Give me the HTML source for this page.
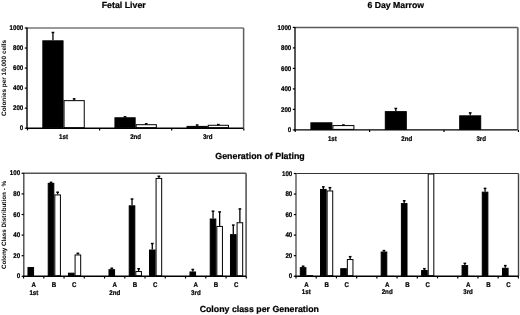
<!DOCTYPE html><html><head><meta charset="utf-8"><style>html,body{margin:0;padding:0;background:#fff;}svg{display:block;filter:blur(0.4px);}text{font-family:"Liberation Sans",sans-serif;fill:#000;text-rendering:geometricPrecision;}</style></head><body>
<svg width="520" height="315" viewBox="0 0 520 315">
<rect x="0" y="0" width="520" height="315" fill="#fff"/>
<rect x="42.85" y="40.82" width="20.20" height="86.88" fill="#000" stroke="#000" stroke-width="1.0"/>
<line x1="52.95" y1="40.32" x2="52.95" y2="32.51" stroke="#000" stroke-width="1.3"/>
<line x1="51.60" y1="32.51" x2="54.30" y2="32.51" stroke="#000" stroke-width="1.5"/>
<rect x="114.95" y="117.78" width="20.20" height="9.92" fill="#000" stroke="#000" stroke-width="1.0"/>
<line x1="125.05" y1="117.28" x2="125.05" y2="116.78" stroke="#000" stroke-width="1.3"/>
<line x1="123.70" y1="116.78" x2="126.40" y2="116.78" stroke="#000" stroke-width="1.5"/>
<rect x="187.05" y="126.40" width="20.20" height="1.30" fill="#000" stroke="#000" stroke-width="1.0"/>
<line x1="197.15" y1="125.90" x2="197.15" y2="124.99" stroke="#000" stroke-width="1.3"/>
<line x1="195.80" y1="124.99" x2="198.50" y2="124.99" stroke="#000" stroke-width="1.5"/>
<rect x="64.05" y="100.64" width="20.20" height="27.06" fill="#fff" stroke="#000" stroke-width="1.0"/>
<line x1="74.15" y1="100.14" x2="74.15" y2="98.84" stroke="#000" stroke-width="1.3"/>
<line x1="72.80" y1="98.84" x2="75.50" y2="98.84" stroke="#000" stroke-width="1.5"/>
<rect x="136.15" y="124.69" width="20.20" height="3.01" fill="#fff" stroke="#000" stroke-width="1.0"/>
<line x1="146.25" y1="124.19" x2="146.25" y2="123.79" stroke="#000" stroke-width="1.3"/>
<line x1="144.90" y1="123.79" x2="147.60" y2="123.79" stroke="#000" stroke-width="1.5"/>
<rect x="208.25" y="125.29" width="20.20" height="2.41" fill="#fff" stroke="#000" stroke-width="1.0"/>
<line x1="218.35" y1="124.79" x2="218.35" y2="124.59" stroke="#000" stroke-width="1.3"/>
<line x1="217.00" y1="124.59" x2="219.70" y2="124.59" stroke="#000" stroke-width="1.5"/>
<line x1="27.00" y1="28.00" x2="243.60" y2="28.00" stroke="#777" stroke-width="1.7"/>
<line x1="243.60" y1="28.00" x2="243.60" y2="128.20" stroke="#5c5c5c" stroke-width="1.5"/>
<line x1="27.00" y1="27.50" x2="27.00" y2="128.80" stroke="#000" stroke-width="1.4"/>
<line x1="26.40" y1="128.20" x2="243.30" y2="128.20" stroke="#000" stroke-width="1.4"/>
<line x1="24.80" y1="128.20" x2="27.00" y2="128.20" stroke="#000" stroke-width="1.2"/>
<text transform="translate(23.30 130.37) scale(0.1000 0.1100)" font-size="62.0" text-anchor="end" font-weight="bold" stroke="#000" stroke-width="2.00">0</text>
<line x1="24.80" y1="108.16" x2="27.00" y2="108.16" stroke="#000" stroke-width="1.2"/>
<text transform="translate(23.30 110.33) scale(0.1000 0.1100)" font-size="62.0" text-anchor="end" font-weight="bold" stroke="#000" stroke-width="2.00">200</text>
<line x1="24.80" y1="88.12" x2="27.00" y2="88.12" stroke="#000" stroke-width="1.2"/>
<text transform="translate(23.30 90.29) scale(0.1000 0.1100)" font-size="62.0" text-anchor="end" font-weight="bold" stroke="#000" stroke-width="2.00">400</text>
<line x1="24.80" y1="68.08" x2="27.00" y2="68.08" stroke="#000" stroke-width="1.2"/>
<text transform="translate(23.30 70.25) scale(0.1000 0.1100)" font-size="62.0" text-anchor="end" font-weight="bold" stroke="#000" stroke-width="2.00">600</text>
<line x1="24.80" y1="48.04" x2="27.00" y2="48.04" stroke="#000" stroke-width="1.2"/>
<text transform="translate(23.30 50.21) scale(0.1000 0.1100)" font-size="62.0" text-anchor="end" font-weight="bold" stroke="#000" stroke-width="2.00">800</text>
<line x1="24.80" y1="28.00" x2="27.00" y2="28.00" stroke="#000" stroke-width="1.2"/>
<text transform="translate(23.30 30.17) scale(0.1000 0.1100)" font-size="62.0" text-anchor="end" font-weight="bold" stroke="#000" stroke-width="2.00">1000</text>
<line x1="27.50" y1="128.20" x2="27.50" y2="130.40" stroke="#000" stroke-width="1.2"/>
<line x1="99.60" y1="128.20" x2="99.60" y2="130.40" stroke="#000" stroke-width="1.2"/>
<line x1="171.70" y1="128.20" x2="171.70" y2="130.40" stroke="#000" stroke-width="1.2"/>
<line x1="243.80" y1="128.20" x2="243.80" y2="130.40" stroke="#000" stroke-width="1.2"/>
<text transform="translate(63.55 139.20) scale(0.1000 0.1100)" font-size="62.0" text-anchor="middle" font-weight="bold" stroke="#000" stroke-width="2.00">1st</text>
<text transform="translate(135.65 139.20) scale(0.1000 0.1100)" font-size="62.0" text-anchor="middle" font-weight="bold" stroke="#000" stroke-width="2.00">2nd</text>
<text transform="translate(207.75 139.20) scale(0.1000 0.1100)" font-size="62.0" text-anchor="middle" font-weight="bold" stroke="#000" stroke-width="2.00">3rd</text>
<text x="123.75" y="7.90" font-size="8.8" text-anchor="middle" font-weight="bold" stroke="#000" stroke-width="0.22">Fetal Liver</text>
<text x="6.40" y="77.90" font-size="6.4" text-anchor="middle" font-weight="bold" stroke="#000" stroke-width="0.0" transform="rotate(-90 6.40 77.90)">Colonies per 10,000 cells</text>
<rect x="310.90" y="122.82" width="21.00" height="6.58" fill="#000" stroke="#000" stroke-width="1.0"/>
<rect x="385.30" y="111.64" width="21.00" height="17.76" fill="#000" stroke="#000" stroke-width="1.0"/>
<line x1="395.80" y1="111.14" x2="395.80" y2="108.47" stroke="#000" stroke-width="1.3"/>
<line x1="394.45" y1="108.47" x2="397.15" y2="108.47" stroke="#000" stroke-width="1.5"/>
<rect x="459.70" y="115.84" width="21.00" height="13.55" fill="#000" stroke="#000" stroke-width="1.0"/>
<line x1="470.20" y1="115.34" x2="470.20" y2="112.87" stroke="#000" stroke-width="1.3"/>
<line x1="468.85" y1="112.87" x2="471.55" y2="112.87" stroke="#000" stroke-width="1.5"/>
<rect x="332.90" y="125.58" width="21.00" height="3.82" fill="#fff" stroke="#000" stroke-width="1.0"/>
<line x1="343.40" y1="125.08" x2="343.40" y2="124.97" stroke="#000" stroke-width="1.3"/>
<line x1="342.05" y1="124.97" x2="344.75" y2="124.97" stroke="#000" stroke-width="1.5"/>
<line x1="295.00" y1="27.40" x2="517.80" y2="27.40" stroke="#5a5a5a" stroke-width="1.5"/>
<line x1="517.80" y1="27.40" x2="517.80" y2="129.90" stroke="#6a6a6a" stroke-width="1.8"/>
<line x1="295.00" y1="26.90" x2="295.00" y2="130.50" stroke="#111" stroke-width="1.4"/>
<line x1="294.40" y1="129.90" x2="517.50" y2="129.90" stroke="#000" stroke-width="1.4"/>
<line x1="292.80" y1="129.90" x2="295.00" y2="129.90" stroke="#000" stroke-width="1.2"/>
<text transform="translate(291.30 132.07) scale(0.1000 0.1100)" font-size="62.0" text-anchor="end" font-weight="bold" stroke="#000" stroke-width="2.00">0</text>
<line x1="292.80" y1="109.40" x2="295.00" y2="109.40" stroke="#000" stroke-width="1.2"/>
<text transform="translate(291.30 111.57) scale(0.1000 0.1100)" font-size="62.0" text-anchor="end" font-weight="bold" stroke="#000" stroke-width="2.00">200</text>
<line x1="292.80" y1="88.90" x2="295.00" y2="88.90" stroke="#000" stroke-width="1.2"/>
<text transform="translate(291.30 91.07) scale(0.1000 0.1100)" font-size="62.0" text-anchor="end" font-weight="bold" stroke="#000" stroke-width="2.00">400</text>
<line x1="292.80" y1="68.40" x2="295.00" y2="68.40" stroke="#000" stroke-width="1.2"/>
<text transform="translate(291.30 70.57) scale(0.1000 0.1100)" font-size="62.0" text-anchor="end" font-weight="bold" stroke="#000" stroke-width="2.00">600</text>
<line x1="292.80" y1="47.90" x2="295.00" y2="47.90" stroke="#000" stroke-width="1.2"/>
<text transform="translate(291.30 50.07) scale(0.1000 0.1100)" font-size="62.0" text-anchor="end" font-weight="bold" stroke="#000" stroke-width="2.00">800</text>
<line x1="292.80" y1="27.40" x2="295.00" y2="27.40" stroke="#000" stroke-width="1.2"/>
<text transform="translate(291.30 29.57) scale(0.1000 0.1100)" font-size="62.0" text-anchor="end" font-weight="bold" stroke="#000" stroke-width="2.00">1000</text>
<line x1="295.20" y1="129.90" x2="295.20" y2="132.10" stroke="#000" stroke-width="1.2"/>
<line x1="369.60" y1="129.90" x2="369.60" y2="132.10" stroke="#000" stroke-width="1.2"/>
<line x1="444.00" y1="129.90" x2="444.00" y2="132.10" stroke="#000" stroke-width="1.2"/>
<line x1="518.40" y1="129.90" x2="518.40" y2="132.10" stroke="#000" stroke-width="1.2"/>
<text transform="translate(332.40 140.80) scale(0.1000 0.1100)" font-size="62.0" text-anchor="middle" font-weight="bold" stroke="#000" stroke-width="2.00">1st</text>
<text transform="translate(406.80 140.80) scale(0.1000 0.1100)" font-size="62.0" text-anchor="middle" font-weight="bold" stroke="#000" stroke-width="2.00">2nd</text>
<text transform="translate(481.20 140.80) scale(0.1000 0.1100)" font-size="62.0" text-anchor="middle" font-weight="bold" stroke="#000" stroke-width="2.00">3rd</text>
<text x="395.75" y="7.90" font-size="8.7" text-anchor="middle" font-weight="bold" stroke="#000" stroke-width="0.22">6 Day Marrow</text>
<text x="260.00" y="159.00" font-size="8.85" text-anchor="middle" font-weight="bold" stroke="#000" stroke-width="0.22">Generation of Plating</text>
<rect x="27.98" y="267.53" width="5.60" height="8.27" fill="#000" stroke="#000" stroke-width="1.0"/>
<rect x="48.22" y="183.38" width="5.60" height="92.42" fill="#000" stroke="#000" stroke-width="1.0"/>
<line x1="51.02" y1="182.88" x2="51.02" y2="182.35" stroke="#000" stroke-width="1.3"/>
<line x1="49.67" y1="182.35" x2="52.37" y2="182.35" stroke="#000" stroke-width="1.5"/>
<rect x="68.48" y="273.19" width="5.60" height="2.60" fill="#000" stroke="#000" stroke-width="1.0"/>
<rect x="108.98" y="269.69" width="5.60" height="6.11" fill="#000" stroke="#000" stroke-width="1.0"/>
<line x1="111.78" y1="269.19" x2="111.78" y2="268.25" stroke="#000" stroke-width="1.3"/>
<line x1="110.43" y1="268.25" x2="113.12" y2="268.25" stroke="#000" stroke-width="1.5"/>
<rect x="129.22" y="205.83" width="5.60" height="69.97" fill="#000" stroke="#000" stroke-width="1.0"/>
<line x1="132.03" y1="205.33" x2="132.03" y2="199.04" stroke="#000" stroke-width="1.3"/>
<line x1="130.68" y1="199.04" x2="133.38" y2="199.04" stroke="#000" stroke-width="1.5"/>
<rect x="149.48" y="250.02" width="5.60" height="25.78" fill="#000" stroke="#000" stroke-width="1.0"/>
<line x1="152.28" y1="249.52" x2="152.28" y2="243.53" stroke="#000" stroke-width="1.3"/>
<line x1="150.93" y1="243.53" x2="153.63" y2="243.53" stroke="#000" stroke-width="1.5"/>
<rect x="189.98" y="271.96" width="5.60" height="3.84" fill="#000" stroke="#000" stroke-width="1.0"/>
<line x1="192.78" y1="271.46" x2="192.78" y2="269.49" stroke="#000" stroke-width="1.3"/>
<line x1="191.43" y1="269.49" x2="194.13" y2="269.49" stroke="#000" stroke-width="1.5"/>
<rect x="210.23" y="219.02" width="5.60" height="56.78" fill="#000" stroke="#000" stroke-width="1.0"/>
<line x1="213.03" y1="218.52" x2="213.03" y2="211.19" stroke="#000" stroke-width="1.3"/>
<line x1="211.68" y1="211.19" x2="214.38" y2="211.19" stroke="#000" stroke-width="1.5"/>
<rect x="230.48" y="234.67" width="5.60" height="41.13" fill="#000" stroke="#000" stroke-width="1.0"/>
<line x1="233.28" y1="234.17" x2="233.28" y2="225.09" stroke="#000" stroke-width="1.3"/>
<line x1="231.93" y1="225.09" x2="234.63" y2="225.09" stroke="#000" stroke-width="1.5"/>
<rect x="54.82" y="194.92" width="5.60" height="80.89" fill="#fff" stroke="#000" stroke-width="1.0"/>
<line x1="57.62" y1="194.42" x2="57.62" y2="192.24" stroke="#000" stroke-width="1.3"/>
<line x1="56.27" y1="192.24" x2="58.97" y2="192.24" stroke="#000" stroke-width="1.5"/>
<rect x="75.08" y="254.96" width="5.60" height="20.84" fill="#fff" stroke="#000" stroke-width="1.0"/>
<line x1="77.88" y1="254.46" x2="77.88" y2="253.32" stroke="#000" stroke-width="1.3"/>
<line x1="76.53" y1="253.32" x2="79.22" y2="253.32" stroke="#000" stroke-width="1.5"/>
<rect x="135.82" y="271.55" width="5.60" height="4.25" fill="#fff" stroke="#000" stroke-width="1.0"/>
<line x1="138.62" y1="271.05" x2="138.62" y2="268.77" stroke="#000" stroke-width="1.3"/>
<line x1="137.28" y1="268.77" x2="139.97" y2="268.77" stroke="#000" stroke-width="1.5"/>
<rect x="156.08" y="178.44" width="5.60" height="97.37" fill="#fff" stroke="#000" stroke-width="1.0"/>
<line x1="158.88" y1="177.94" x2="158.88" y2="176.27" stroke="#000" stroke-width="1.3"/>
<line x1="157.53" y1="176.27" x2="160.23" y2="176.27" stroke="#000" stroke-width="1.5"/>
<rect x="216.83" y="226.43" width="5.60" height="49.37" fill="#fff" stroke="#000" stroke-width="1.0"/>
<line x1="219.63" y1="225.93" x2="219.63" y2="211.91" stroke="#000" stroke-width="1.3"/>
<line x1="218.28" y1="211.91" x2="220.98" y2="211.91" stroke="#000" stroke-width="1.5"/>
<rect x="237.08" y="222.73" width="5.60" height="53.08" fill="#fff" stroke="#000" stroke-width="1.0"/>
<line x1="239.88" y1="222.23" x2="239.88" y2="208.92" stroke="#000" stroke-width="1.3"/>
<line x1="238.53" y1="208.92" x2="241.23" y2="208.92" stroke="#000" stroke-width="1.5"/>
<line x1="23.80" y1="173.30" x2="246.10" y2="173.30" stroke="#555" stroke-width="1.4"/>
<line x1="246.10" y1="173.30" x2="246.10" y2="276.30" stroke="#6a6a6a" stroke-width="1.8"/>
<line x1="23.80" y1="172.80" x2="23.80" y2="276.90" stroke="#4a4a4a" stroke-width="1.4"/>
<line x1="23.20" y1="276.30" x2="246.10" y2="276.30" stroke="#000" stroke-width="1.4"/>
<line x1="21.60" y1="276.30" x2="23.80" y2="276.30" stroke="#000" stroke-width="1.2"/>
<text transform="translate(20.10 278.47) scale(0.1000 0.1100)" font-size="62.0" text-anchor="end" font-weight="bold" stroke="#000" stroke-width="2.00">0</text>
<line x1="21.60" y1="255.70" x2="23.80" y2="255.70" stroke="#000" stroke-width="1.2"/>
<text transform="translate(20.10 257.87) scale(0.1000 0.1100)" font-size="62.0" text-anchor="end" font-weight="bold" stroke="#000" stroke-width="2.00">20</text>
<line x1="21.60" y1="235.10" x2="23.80" y2="235.10" stroke="#000" stroke-width="1.2"/>
<text transform="translate(20.10 237.27) scale(0.1000 0.1100)" font-size="62.0" text-anchor="end" font-weight="bold" stroke="#000" stroke-width="2.00">40</text>
<line x1="21.60" y1="214.50" x2="23.80" y2="214.50" stroke="#000" stroke-width="1.2"/>
<text transform="translate(20.10 216.67) scale(0.1000 0.1100)" font-size="62.0" text-anchor="end" font-weight="bold" stroke="#000" stroke-width="2.00">60</text>
<line x1="21.60" y1="193.90" x2="23.80" y2="193.90" stroke="#000" stroke-width="1.2"/>
<text transform="translate(20.10 196.07) scale(0.1000 0.1100)" font-size="62.0" text-anchor="end" font-weight="bold" stroke="#000" stroke-width="2.00">80</text>
<line x1="21.60" y1="173.30" x2="23.80" y2="173.30" stroke="#000" stroke-width="1.2"/>
<text transform="translate(20.10 175.47) scale(0.1000 0.1100)" font-size="62.0" text-anchor="end" font-weight="bold" stroke="#000" stroke-width="2.00">100</text>
<line x1="23.55" y1="276.30" x2="23.55" y2="278.50" stroke="#000" stroke-width="1.2"/>
<line x1="43.80" y1="276.30" x2="43.80" y2="278.50" stroke="#000" stroke-width="1.2"/>
<line x1="64.05" y1="276.30" x2="64.05" y2="278.50" stroke="#000" stroke-width="1.2"/>
<line x1="84.30" y1="276.30" x2="84.30" y2="278.50" stroke="#000" stroke-width="1.2"/>
<line x1="104.55" y1="276.30" x2="104.55" y2="278.50" stroke="#000" stroke-width="1.2"/>
<line x1="124.80" y1="276.30" x2="124.80" y2="278.50" stroke="#000" stroke-width="1.2"/>
<line x1="145.05" y1="276.30" x2="145.05" y2="278.50" stroke="#000" stroke-width="1.2"/>
<line x1="165.30" y1="276.30" x2="165.30" y2="278.50" stroke="#000" stroke-width="1.2"/>
<line x1="185.55" y1="276.30" x2="185.55" y2="278.50" stroke="#000" stroke-width="1.2"/>
<line x1="205.80" y1="276.30" x2="205.80" y2="278.50" stroke="#000" stroke-width="1.2"/>
<line x1="226.05" y1="276.30" x2="226.05" y2="278.50" stroke="#000" stroke-width="1.2"/>
<line x1="246.30" y1="276.30" x2="246.30" y2="278.50" stroke="#000" stroke-width="1.2"/>
<text transform="translate(33.77 287.10) scale(0.1000 0.1100)" font-size="62.0" text-anchor="middle" font-weight="bold" stroke="#000" stroke-width="2.00">A</text>
<text transform="translate(54.02 287.10) scale(0.1000 0.1100)" font-size="62.0" text-anchor="middle" font-weight="bold" stroke="#000" stroke-width="2.00">B</text>
<text transform="translate(74.27 287.10) scale(0.1000 0.1100)" font-size="62.0" text-anchor="middle" font-weight="bold" stroke="#000" stroke-width="2.00">C</text>
<text transform="translate(114.77 287.10) scale(0.1000 0.1100)" font-size="62.0" text-anchor="middle" font-weight="bold" stroke="#000" stroke-width="2.00">A</text>
<text transform="translate(135.03 287.10) scale(0.1000 0.1100)" font-size="62.0" text-anchor="middle" font-weight="bold" stroke="#000" stroke-width="2.00">B</text>
<text transform="translate(155.28 287.10) scale(0.1000 0.1100)" font-size="62.0" text-anchor="middle" font-weight="bold" stroke="#000" stroke-width="2.00">C</text>
<text transform="translate(195.78 287.10) scale(0.1000 0.1100)" font-size="62.0" text-anchor="middle" font-weight="bold" stroke="#000" stroke-width="2.00">A</text>
<text transform="translate(216.03 287.10) scale(0.1000 0.1100)" font-size="62.0" text-anchor="middle" font-weight="bold" stroke="#000" stroke-width="2.00">B</text>
<text transform="translate(236.28 287.10) scale(0.1000 0.1100)" font-size="62.0" text-anchor="middle" font-weight="bold" stroke="#000" stroke-width="2.00">C</text>
<text transform="translate(33.88 294.60) scale(0.1000 0.1100)" font-size="62.0" text-anchor="middle" font-weight="bold" stroke="#000" stroke-width="2.00">1st</text>
<text transform="translate(114.88 294.60) scale(0.1000 0.1100)" font-size="62.0" text-anchor="middle" font-weight="bold" stroke="#000" stroke-width="2.00">2nd</text>
<text transform="translate(195.88 294.60) scale(0.1000 0.1100)" font-size="62.0" text-anchor="middle" font-weight="bold" stroke="#000" stroke-width="2.00">3rd</text>
<text x="5.70" y="225.00" font-size="6.3" text-anchor="middle" font-weight="bold" stroke="#000" stroke-width="0.0" transform="rotate(-90 5.70 225.00)">Colony Class Distribution - %</text>
<rect x="300.31" y="267.66" width="5.60" height="8.04" fill="#000" stroke="#000" stroke-width="1.0"/>
<line x1="303.11" y1="267.16" x2="303.11" y2="266.22" stroke="#000" stroke-width="1.3"/>
<line x1="301.76" y1="266.22" x2="304.46" y2="266.22" stroke="#000" stroke-width="1.5"/>
<rect x="320.53" y="189.41" width="5.60" height="86.29" fill="#000" stroke="#000" stroke-width="1.0"/>
<line x1="323.33" y1="188.91" x2="323.33" y2="186.84" stroke="#000" stroke-width="1.3"/>
<line x1="321.98" y1="186.84" x2="324.68" y2="186.84" stroke="#000" stroke-width="1.5"/>
<rect x="340.75" y="268.69" width="5.60" height="7.01" fill="#000" stroke="#000" stroke-width="1.0"/>
<rect x="381.18" y="252.05" width="5.60" height="23.65" fill="#000" stroke="#000" stroke-width="1.0"/>
<line x1="383.98" y1="251.55" x2="383.98" y2="250.61" stroke="#000" stroke-width="1.3"/>
<line x1="382.63" y1="250.61" x2="385.33" y2="250.61" stroke="#000" stroke-width="1.5"/>
<rect x="401.40" y="203.58" width="5.60" height="72.12" fill="#000" stroke="#000" stroke-width="1.0"/>
<line x1="404.20" y1="203.08" x2="404.20" y2="200.80" stroke="#000" stroke-width="1.3"/>
<line x1="402.85" y1="200.80" x2="405.55" y2="200.80" stroke="#000" stroke-width="1.5"/>
<rect x="421.62" y="270.54" width="5.60" height="5.16" fill="#000" stroke="#000" stroke-width="1.0"/>
<line x1="424.42" y1="270.04" x2="424.42" y2="268.69" stroke="#000" stroke-width="1.3"/>
<line x1="423.07" y1="268.69" x2="425.77" y2="268.69" stroke="#000" stroke-width="1.5"/>
<rect x="462.06" y="265.61" width="5.60" height="10.09" fill="#000" stroke="#000" stroke-width="1.0"/>
<line x1="464.85" y1="265.11" x2="464.85" y2="263.35" stroke="#000" stroke-width="1.3"/>
<line x1="463.50" y1="263.35" x2="466.20" y2="263.35" stroke="#000" stroke-width="1.5"/>
<rect x="482.27" y="192.18" width="5.60" height="83.52" fill="#000" stroke="#000" stroke-width="1.0"/>
<line x1="485.07" y1="191.68" x2="485.07" y2="188.38" stroke="#000" stroke-width="1.3"/>
<line x1="483.72" y1="188.38" x2="486.42" y2="188.38" stroke="#000" stroke-width="1.5"/>
<rect x="502.49" y="268.28" width="5.60" height="7.42" fill="#000" stroke="#000" stroke-width="1.0"/>
<line x1="505.29" y1="267.78" x2="505.29" y2="265.61" stroke="#000" stroke-width="1.3"/>
<line x1="503.94" y1="265.61" x2="506.64" y2="265.61" stroke="#000" stroke-width="1.5"/>
<rect x="306.91" y="275.67" width="5.60" height="0.03" fill="#fff" stroke="#000" stroke-width="1.0"/>
<rect x="327.13" y="190.95" width="5.60" height="84.75" fill="#fff" stroke="#000" stroke-width="1.0"/>
<line x1="329.93" y1="190.45" x2="329.93" y2="187.66" stroke="#000" stroke-width="1.3"/>
<line x1="328.58" y1="187.66" x2="331.28" y2="187.66" stroke="#000" stroke-width="1.5"/>
<rect x="347.35" y="259.55" width="5.60" height="16.15" fill="#fff" stroke="#000" stroke-width="1.0"/>
<line x1="350.15" y1="259.05" x2="350.15" y2="256.67" stroke="#000" stroke-width="1.3"/>
<line x1="348.80" y1="256.67" x2="351.50" y2="256.67" stroke="#000" stroke-width="1.5"/>
<rect x="387.78" y="276.39" width="5.60" height="0.01" fill="#fff" stroke="#000" stroke-width="1.0"/>
<rect x="408.00" y="276.39" width="5.60" height="0.01" fill="#fff" stroke="#000" stroke-width="1.0"/>
<rect x="428.22" y="174.00" width="5.60" height="101.70" fill="#fff" stroke="#000" stroke-width="1.0"/>
<rect x="468.65" y="276.39" width="5.60" height="0.01" fill="#fff" stroke="#000" stroke-width="1.0"/>
<rect x="488.87" y="276.39" width="5.60" height="0.01" fill="#fff" stroke="#000" stroke-width="1.0"/>
<rect x="509.09" y="276.39" width="5.60" height="0.01" fill="#fff" stroke="#000" stroke-width="1.0"/>
<line x1="296.00" y1="173.50" x2="518.50" y2="173.50" stroke="#333" stroke-width="1.2"/>
<line x1="518.50" y1="173.50" x2="518.50" y2="276.20" stroke="#444" stroke-width="1.4"/>
<line x1="296.00" y1="173.00" x2="296.00" y2="276.80" stroke="#555" stroke-width="1.4"/>
<line x1="295.40" y1="276.20" x2="518.50" y2="276.20" stroke="#000" stroke-width="1.4"/>
<line x1="293.80" y1="276.20" x2="296.00" y2="276.20" stroke="#000" stroke-width="1.2"/>
<text transform="translate(292.30 278.37) scale(0.1000 0.1100)" font-size="62.0" text-anchor="end" font-weight="bold" stroke="#000" stroke-width="2.00">0</text>
<line x1="293.80" y1="255.66" x2="296.00" y2="255.66" stroke="#000" stroke-width="1.2"/>
<text transform="translate(292.30 257.83) scale(0.1000 0.1100)" font-size="62.0" text-anchor="end" font-weight="bold" stroke="#000" stroke-width="2.00">20</text>
<line x1="293.80" y1="235.12" x2="296.00" y2="235.12" stroke="#000" stroke-width="1.2"/>
<text transform="translate(292.30 237.29) scale(0.1000 0.1100)" font-size="62.0" text-anchor="end" font-weight="bold" stroke="#000" stroke-width="2.00">40</text>
<line x1="293.80" y1="214.58" x2="296.00" y2="214.58" stroke="#000" stroke-width="1.2"/>
<text transform="translate(292.30 216.75) scale(0.1000 0.1100)" font-size="62.0" text-anchor="end" font-weight="bold" stroke="#000" stroke-width="2.00">60</text>
<line x1="293.80" y1="194.04" x2="296.00" y2="194.04" stroke="#000" stroke-width="1.2"/>
<text transform="translate(292.30 196.21) scale(0.1000 0.1100)" font-size="62.0" text-anchor="end" font-weight="bold" stroke="#000" stroke-width="2.00">80</text>
<line x1="293.80" y1="173.50" x2="296.00" y2="173.50" stroke="#000" stroke-width="1.2"/>
<text transform="translate(292.30 175.67) scale(0.1000 0.1100)" font-size="62.0" text-anchor="end" font-weight="bold" stroke="#000" stroke-width="2.00">100</text>
<line x1="296.00" y1="276.20" x2="296.00" y2="278.40" stroke="#000" stroke-width="1.2"/>
<line x1="316.22" y1="276.20" x2="316.22" y2="278.40" stroke="#000" stroke-width="1.2"/>
<line x1="336.44" y1="276.20" x2="336.44" y2="278.40" stroke="#000" stroke-width="1.2"/>
<line x1="356.65" y1="276.20" x2="356.65" y2="278.40" stroke="#000" stroke-width="1.2"/>
<line x1="376.87" y1="276.20" x2="376.87" y2="278.40" stroke="#000" stroke-width="1.2"/>
<line x1="397.09" y1="276.20" x2="397.09" y2="278.40" stroke="#000" stroke-width="1.2"/>
<line x1="417.31" y1="276.20" x2="417.31" y2="278.40" stroke="#000" stroke-width="1.2"/>
<line x1="437.53" y1="276.20" x2="437.53" y2="278.40" stroke="#000" stroke-width="1.2"/>
<line x1="457.75" y1="276.20" x2="457.75" y2="278.40" stroke="#000" stroke-width="1.2"/>
<line x1="477.96" y1="276.20" x2="477.96" y2="278.40" stroke="#000" stroke-width="1.2"/>
<line x1="498.18" y1="276.20" x2="498.18" y2="278.40" stroke="#000" stroke-width="1.2"/>
<line x1="518.40" y1="276.20" x2="518.40" y2="278.40" stroke="#000" stroke-width="1.2"/>
<text transform="translate(306.41 287.20) scale(0.1000 0.1100)" font-size="62.0" text-anchor="middle" font-weight="bold" stroke="#000" stroke-width="2.00">A</text>
<text transform="translate(326.63 287.20) scale(0.1000 0.1100)" font-size="62.0" text-anchor="middle" font-weight="bold" stroke="#000" stroke-width="2.00">B</text>
<text transform="translate(346.85 287.20) scale(0.1000 0.1100)" font-size="62.0" text-anchor="middle" font-weight="bold" stroke="#000" stroke-width="2.00">C</text>
<text transform="translate(387.28 287.20) scale(0.1000 0.1100)" font-size="62.0" text-anchor="middle" font-weight="bold" stroke="#000" stroke-width="2.00">A</text>
<text transform="translate(407.50 287.20) scale(0.1000 0.1100)" font-size="62.0" text-anchor="middle" font-weight="bold" stroke="#000" stroke-width="2.00">B</text>
<text transform="translate(427.72 287.20) scale(0.1000 0.1100)" font-size="62.0" text-anchor="middle" font-weight="bold" stroke="#000" stroke-width="2.00">C</text>
<text transform="translate(468.15 287.20) scale(0.1000 0.1100)" font-size="62.0" text-anchor="middle" font-weight="bold" stroke="#000" stroke-width="2.00">A</text>
<text transform="translate(488.37 287.20) scale(0.1000 0.1100)" font-size="62.0" text-anchor="middle" font-weight="bold" stroke="#000" stroke-width="2.00">B</text>
<text transform="translate(508.59 287.20) scale(0.1000 0.1100)" font-size="62.0" text-anchor="middle" font-weight="bold" stroke="#000" stroke-width="2.00">C</text>
<text transform="translate(306.31 294.40) scale(0.1000 0.1100)" font-size="62.0" text-anchor="middle" font-weight="bold" stroke="#000" stroke-width="2.00">1st</text>
<text transform="translate(387.18 294.40) scale(0.1000 0.1100)" font-size="62.0" text-anchor="middle" font-weight="bold" stroke="#000" stroke-width="2.00">2nd</text>
<text transform="translate(468.05 294.40) scale(0.1000 0.1100)" font-size="62.0" text-anchor="middle" font-weight="bold" stroke="#000" stroke-width="2.00">3rd</text>
<text x="259.30" y="312.40" font-size="8.8" text-anchor="middle" font-weight="bold" stroke="#000" stroke-width="0.22">Colony class per Generation</text>
</svg></body></html>
